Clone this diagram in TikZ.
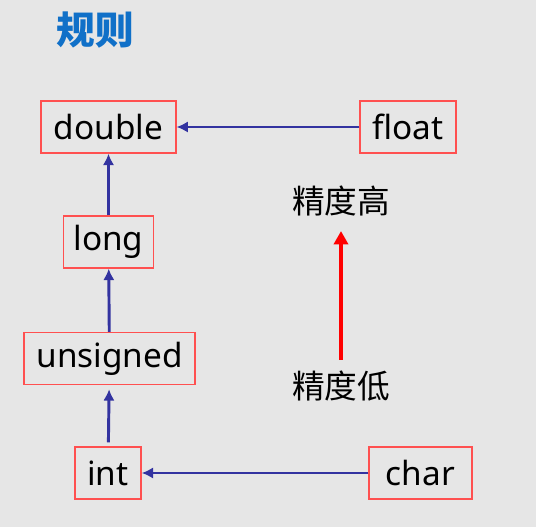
\documentclass[tikz,border=0pt]{standalone}
\usepackage{fontspec}
\setmainfont{Noto Sans}
\newfontfamily\cjk{Noto Sans CJK SC}
\usepackage{xcolor}
\usetikzlibrary{arrows.meta}
\definecolor{bgGray}{RGB}{230,230,230}
\definecolor{boxRed}{RGB}{255,80,80}
\definecolor{lineBlue}{RGB}{51,51,160}
\definecolor{titleBlue}{RGB}{16,112,200}

\begin{document}
\begin{tikzpicture}[x=0.75pt,y=0.75pt,yscale=-1,xscale=1,
  typebox/.style={draw=boxRed,line width=1.1pt,fill=bgGray,minimum height=39pt,inner sep=0pt,font=\fontsize{25}{28}\selectfont},
  conv/.style={draw=lineBlue,line width=2.2pt,-{Latex[length=8.5pt,width=8.5pt]}},
  prec/.style={font=\cjk\fontsize{24.5}{28}\selectfont,inner sep=0pt}]
% background and margins
\fill[bgGray] (0,0) rectangle (536,527);
\useasboundingbox (0,0) rectangle (536,527);

% Title
\node[font=\cjk\bfseries\fontsize{29}{32}\selectfont,text=titleBlue,inner sep=0pt] (title) at (95,30) {规则};

% Type boxes
\node[typebox,minimum width=101pt] (double) at (108.5,127) {double};
\node[typebox,minimum width=72pt] (float) at (408,127) {float};
\node[typebox,minimum width=67.5pt] (long) at (108.5,242) {long};
\node[typebox,minimum width=128pt] (unsigned) at (109.5,358.5) {unsigned};
\node[typebox,minimum width=49.5pt] (int) at (108,473) {int};
\node[typebox,minimum width=77pt] (char) at (420.5,473) {char};

% Precision labels
\node[prec] (high) at (341,201) {精度高};
\node[prec] (low) at (341,386) {精度低};

% Conversions
\draw[conv] (float) -- (double);
\draw[conv] (long) -- (double);
\draw[conv] (unsigned) -- (long);
\draw[conv,shorten <=3pt,shorten >=3pt] (int) -- (unsigned);
\draw[conv] (char) -- (int);

% Precision arrow
\draw[red,line width=3.3pt,-{Triangle[length=10pt,width=10.5pt]},shorten <=8pt,shorten >=11pt] (low) -- (high);

\end{tikzpicture}
\end{document}
